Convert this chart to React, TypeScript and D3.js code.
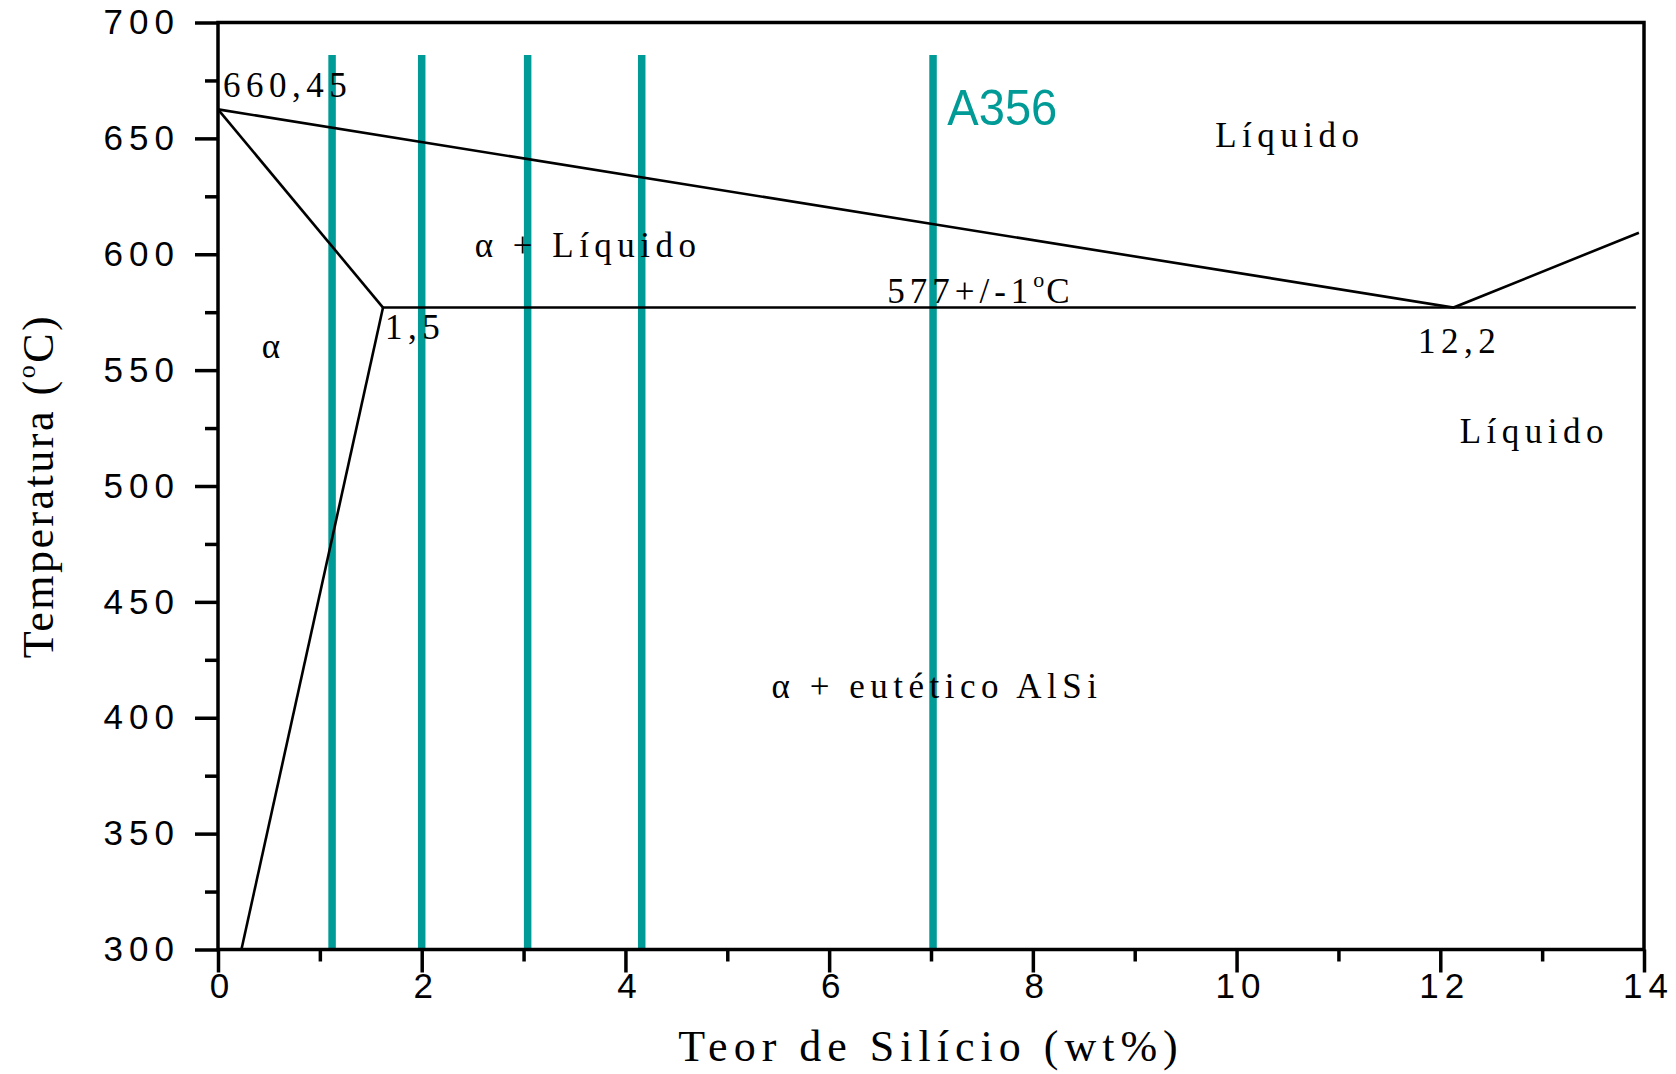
import React, { useRef, useEffect } from 'react';
import * as d3 from 'd3';

// Al-Si phase diagram (Al rich side), with the alloys marked
const liquidusSi = [0, 12.13, 13.95];
const liquidusT = [662.5, 577, 609.3];
const solidusSi = [0, 1.62];
const solidusT = [662.5, 577];
const solvusSi = [1.62, 0.23];
const solvusT = [577, 300];
const eutecticSi = [1.62, 13.92];
const eutecticT = [577, 577];

const alloySi = [1.12, 2.0, 3.04, 4.16, 7.02];
const alloyTop = 686;

const xMajor = [0, 2, 4, 6, 8, 10, 12, 14];
const xMinor = [1, 3, 5, 7, 9, 11, 13];
const yMajor = [300, 350, 400, 450, 500, 550, 600, 650, 700];
const yMinor = [325, 375, 425, 475, 525, 575, 625, 675];

// region / point labels: text, si, temp
const labelText = ['660,45', 'α + Líquido', '1,5', 'α', '12,2', 'Líquido', 'Líquido', 'α + eutético AlSi'];
const labelSi = [0.05, 2.52, 1.64, 0.43, 11.78, 9.79, 12.19, 5.435];
const labelT = [668, 598.9, 563.3, 555.2, 557.3, 646.4, 518.7, 408.4];

const W = 1676;
const H = 1074;
const TEAL = '#009b96';
const SERIF = '"Liberation Serif", "Times New Roman", serif';
const SANS = '"Liberation Sans", Arial, sans-serif';

export default function App() {
  const ref = useRef<SVGSVGElement>(null);

  useEffect(() => {
    const svg = d3.select(ref.current);
    svg.selectAll('*').remove();

    const x = d3.scaleLinear().domain([0, 14]).range([218, 1644]);
    const y = d3.scaleLinear().domain([300, 700]).range([949.5, 22.5]);

    const line = d3.line<[number, number]>()
      .x(d => x(d[0]))
      .y(d => y(d[1]));
    const zip = (a: number[], b: number[]) => a.map((v, i) => [v, b[i]] as [number, number]);

    // alloy lines (behind)
    svg.append('g')
      .selectAll('line')
      .data(alloySi)
      .join('line')
      .attr('x1', d => x(d))
      .attr('x2', d => x(d))
      .attr('y1', y(alloyTop))
      .attr('y2', y(300))
      .attr('stroke', TEAL)
      .attr('stroke-width', 7.5);

    // phase boundaries
    [[liquidusSi, liquidusT], [solidusSi, solidusT], [solvusSi, solvusT], [eutecticSi, eutecticT]]
      .forEach(([s, t]) => {
        svg.append('path')
          .datum(zip(s, t))
          .attr('fill', 'none')
          .attr('stroke', '#000')
          .attr('stroke-width', 2.6)
          .attr('d', line);
      });

    // frame
    svg.append('rect')
      .attr('x', x(0))
      .attr('y', y(700))
      .attr('width', x(14) - x(0))
      .attr('height', y(300) - y(700))
      .attr('fill', 'none')
      .attr('stroke', '#000')
      .attr('stroke-width', 3.5);

    const styleAxis = (g: any) => {
      g.select('.domain').remove();
      g.selectAll('line').attr('stroke', '#000').attr('stroke-width', 3.5);
      g.selectAll('text')
        .attr('font-family', SANS)
        .attr('font-size', 35)
        .attr('letter-spacing', 6)
        .attr('fill', '#000');
    };

    // axes
    svg.append('g')
      .attr('transform', `translate(0,${y(300)})`)
      .call(d3.axisBottom(x).tickValues(xMinor).tickSize(12).tickFormat(() => ''))
      .call(styleAxis);
    svg.append('g')
      .attr('transform', `translate(0,${y(300)})`)
      .call(d3.axisBottom(x).tickValues(xMajor).tickSize(23).tickPadding(1).tickFormat(d3.format('d')))
      .call(styleAxis)
      .selectAll('text')
      .attr('dx', 4);

    svg.append('g')
      .attr('transform', `translate(${x(0)},0)`)
      .call(d3.axisLeft(y).tickValues(yMinor).tickSize(13).tickFormat(() => ''))
      .call(styleAxis);
    svg.append('g')
      .attr('transform', `translate(${x(0)},0)`)
      .call(d3.axisLeft(y).tickValues(yMajor).tickSize(23).tickPadding(15).tickFormat(d3.format('d')))
      .call(styleAxis);

    // labels in the diagram
    svg.append('g')
      .selectAll('text')
      .data(labelText)
      .join('text')
      .attr('x', (_, i) => x(labelSi[i]))
      .attr('y', (_, i) => y(labelT[i]))
      .attr('font-family', SERIF)
      .attr('font-size', 35)
      .attr('letter-spacing', 5.5)
      .attr('fill', '#000')
      .text(d => d);

    // eutectic temperature with superscript degree
    const eut = svg.append('text')
      .attr('x', x(6.57))
      .attr('y', y(579.1))
      .attr('font-family', SERIF)
      .attr('font-size', 35)
      .attr('letter-spacing', 5)
      .attr('fill', '#000');
    eut.append('tspan').text('577+/-1');
    eut.append('tspan').attr('font-size', 22).attr('dy', -16).attr('letter-spacing', 2).text('o');
    eut.append('tspan').attr('dy', 16).text('C');

    // alloy name
    svg.append('text')
      .attr('x', x(7.16))
      .attr('y', y(655.8))
      .attr('font-family', SANS)
      .attr('font-size', 50)
      .attr('textLength', 110)
      .attr('lengthAdjust', 'spacingAndGlyphs')
      .attr('fill', TEAL)
      .text('A356');

    // axis titles
    svg.append('text')
      .attr('x', (x(0) + x(14)) / 2)
      .attr('y', 1061)
      .attr('text-anchor', 'middle')
      .attr('font-family', SERIF)
      .attr('font-size', 44)
      .attr('letter-spacing', 6)
      .attr('fill', '#000')
      .text('Teor de Silício (wt%)');

    const yt = svg.append('text')
      .attr('transform', `translate(53,${(y(300) + y(700)) / 2}) rotate(-90)`)
      .attr('text-anchor', 'middle')
      .attr('font-family', SERIF)
      .attr('font-size', 44)
      .attr('letter-spacing', 2.5)
      .attr('fill', '#000');
    yt.append('tspan').text('Temperatura (');
    yt.append('tspan').attr('font-size', 26).attr('dy', -18).text('o');
    yt.append('tspan').attr('dy', 18).text('C)');
  }, []);

  return (
    <svg
      ref={ref}
      width={W}
      height={H}
      style={{ position: 'absolute', left: 0, top: 0, display: 'block', background: '#fff' }}
    />
  );
}
